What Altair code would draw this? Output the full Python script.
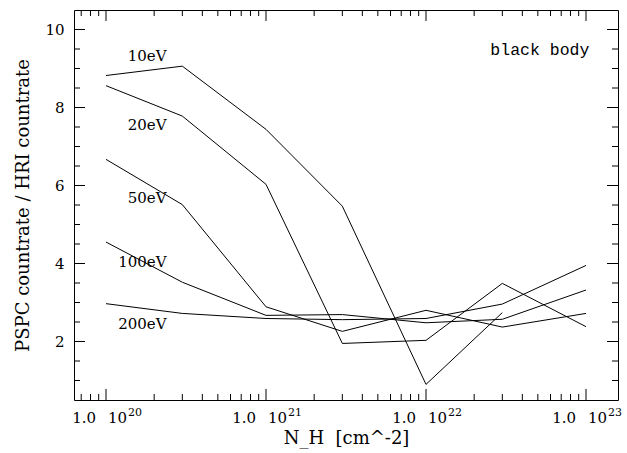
import altair as alt
import pandas as pd

# ---- data ----
nh = [1e20, 3e20, 1e21, 3e21, 1e22, 3e22, 1e23]
r10 = [8.82, 9.06, 7.44, 5.47, 0.90, 2.74]
r20 = [8.56, 7.78, 6.03, 1.95, 2.03, 3.49, 2.38]
r50 = [6.67, 5.51, 2.89, 2.26, 2.80, 2.37, 2.72]
r100 = [4.55, 3.52, 2.67, 2.69, 2.48, 2.57, 3.32]
r200 = [2.97, 2.72, 2.59, 2.56, 2.59, 2.96, 3.95]
series_names = ["10eV", "20eV", "50eV", "100eV", "200eV"]
series_vals = [r10, r20, r50, r100, r200]

label_x = [2.39e20, 2.39e20, 2.39e20, 2.39e20, 2.39e20]
label_y = [9.31, 7.54, 5.67, 4.05, 2.44]

x_major = [1e20, 1e21, 1e22, 1e23]
x_mant = ["1.0", "1.0", "1.0", "1.0"]
x_base = ["10", "10", "10", "10"]
x_exp = ["20", "21", "22", "23"]
x_minor = [k * 10.0 ** n for n in (19, 20, 21, 22) for k in range(2, 10)
           if 10 ** 19.8 <= k * 10.0 ** n <= 10 ** 23.2]
y_major = [2, 4, 6, 8, 10]
y_minor = [1, 1.5, 2.5, 3, 3.5, 4.5, 5, 5.5, 6.5, 7, 7.5, 8.5, 9, 9.5]

note_text = ["black body"]
note_x = [1.05e23]
note_y = [9.47]

# ---- tables ----
rows = []
for name, vals in zip(series_names, series_vals):
    for xv, yv in zip(nh, vals):
        rows.append({"x": xv, "y": yv, "s": name})
df = pd.DataFrame(rows)
lab = pd.DataFrame({"x": label_x, "y": label_y, "t": series_names})
note = pd.DataFrame({"x": note_x, "y": note_y, "t": note_text})
xmaj = pd.DataFrame({"x": x_major, "m": x_mant, "b": x_base, "e": x_exp})
xmin = pd.DataFrame({"x": x_minor})
ymaj = pd.DataFrame({"y": y_major})
ymin = pd.DataFrame({"y": y_minor})

W, H = 544, 390
SERIF = "DejaVu Serif"

xs = alt.Scale(type="log", domain=[10 ** 19.8, 10 ** 23.2], nice=False)
ys = alt.Scale(domain=[0.5, 10.5], nice=False, zero=False)

xaxis = alt.Axis(
    values=x_major, labels=False, ticks=False, domain=False, grid=False,
    title="N_H\u00a0\u00a0[cm^-2]", titlePadding=29)
yaxis = alt.Axis(
    values=y_major, format="d", ticks=False, domain=False, grid=False,
    labelPadding=10, title="PSPC countrate / HRI countrate", titlePadding=12)


def X(field="x"):
    return alt.X(f"{field}:Q", scale=xs, axis=xaxis)


def Y(field="y"):
    return alt.Y(f"{field}:Q", scale=ys, axis=yaxis)


lines = alt.Chart(df).mark_line(color="black", strokeWidth=1).encode(
    x=X(), y=Y(), detail="s:N")

labels = alt.Chart(lab).mark_text(
    align="right", baseline="middle", font=SERIF, fontSize=15, color="black"
).encode(x=X(), y=Y(), text="t:N")

notes = alt.Chart(note).mark_text(
    align="right", baseline="middle", font="Liberation Mono", fontSize=16.5, color="black"
).encode(x=X(), y=Y(), text="t:N")

# x tick labels: mantissa, base and raised exponent
xl_m = alt.Chart(xmaj).mark_text(
    align="right", baseline="middle", font=SERIF, fontSize=15, color="black", dx=-10
).encode(x=X(), y=alt.value(H + 18), text="m:N")
xl_b = alt.Chart(xmaj).mark_text(
    align="left", baseline="middle", font=SERIF, fontSize=15, color="black", dx=2
).encode(x=X(), y=alt.value(H + 18), text="b:N")
xl_e = alt.Chart(xmaj).mark_text(
    align="left", baseline="middle", font=SERIF, fontSize=11, color="black", dx=22
).encode(x=X(), y=alt.value(H + 13), text="e:N")


def xt(data, y0, y1):
    return alt.Chart(data).mark_rule(color="black", strokeWidth=1).encode(
        x=X(), y=alt.value(y0), y2=alt.value(y1))


def yt(data, x0, x1):
    return alt.Chart(data).mark_rule(color="black", strokeWidth=1).encode(
        y=Y(), x=alt.value(x0), x2=alt.value(x1))


ticks = [
    xt(xmaj, H, H - 11), xt(xmin, H, H - 6), xt(xmaj, 0, 11), xt(xmin, 0, 6),
    yt(ymaj, 0, 11), yt(ymin, 0, 6), yt(ymaj, W, W - 11), yt(ymin, W, W - 6),
]

chart = alt.layer(lines, labels, notes, xl_m, xl_b, xl_e, *ticks).properties(
    width=W, height=H,
    padding={"left": 74, "top": 10, "right": 9, "bottom": 53},
    autosize=alt.AutoSizeParams(type="none"),
    background="white",
).configure_view(stroke="black", strokeWidth=1).configure_axis(
    labelFont=SERIF, labelFontSize=15, labelColor="black",
    titleFont=SERIF, titleFontSize=18, titleFontWeight="normal", titleColor="black",
)

chart.save("out.html", embed_options={"renderer": "svg", "actions": False})
